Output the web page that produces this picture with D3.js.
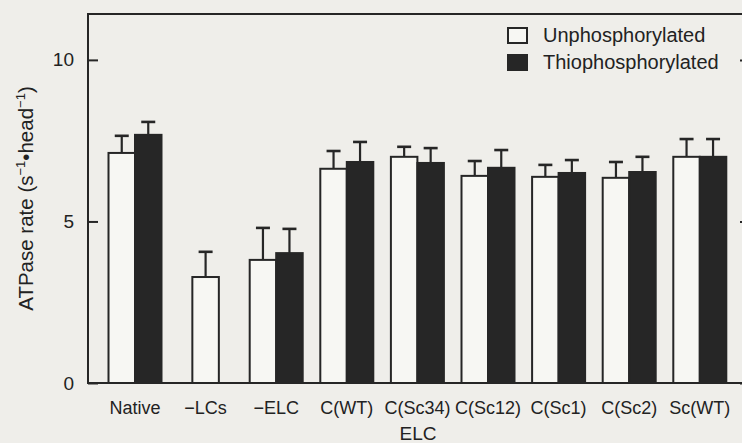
<!DOCTYPE html>
<html>
<head>
<meta charset="utf-8">
<script src="https://cdn.jsdelivr.net/npm/d3@7"></script>
<style>
  body { margin: 0; background: #efeeea; }
  svg { display: block; }
  text { font-family: "Liberation Sans", Arial, sans-serif; fill: #222; }
</style>
</head>
<body>
<div id="chart"></div>
<script>
// ATPase rates
var categories = ["Native", "\u2212LCs", "\u2212ELC", "C(WT)", "C(Sc34)", "C(Sc12)", "C(Sc1)", "C(Sc2)", "Sc(WT)"];
var unphos     = [7.12, 3.28, 3.81, 6.63, 7.00, 6.41, 6.38, 6.35, 7.00];
var unphosErr  = [0.53, 0.78, 0.99, 0.55, 0.31, 0.46, 0.37, 0.49, 0.55];
var thio       = [7.68, null, 4.02, 6.84, 6.81, 6.66, 6.50, 6.53, 7.00];
var thioErr    = [0.40, null, 0.75, 0.62, 0.46, 0.55, 0.40, 0.47, 0.55];
var yTicks     = [0, 5, 10];
var seriesNames = ["Unphosphorylated", "Thiophosphorylated"];

var width = 742, height = 443;
var ink = "#262626";
var lightFill = "#f7f7f3";

var svg = d3.select("#chart").append("svg")
    .attr("width", width)
    .attr("height", height);

var plot = { left: 88, right: 750, top: 14, bottom: 383 };

var x = d3.scaleBand()
    .domain(categories)
    .range([99.7, 735.1]);

var y = d3.scaleLinear()
    .domain([0, 11.42])
    .range([plot.bottom, plot.top]);

var barW = 26.5;

// build bar records
var bars = [];
categories.forEach(function(c, i) {
    var center = x(c) + x.bandwidth() / 2;
    if (thio[i] === null) {
        bars.push({ cx: center, v: unphos[i], e: unphosErr[i], s: 0 });
    } else {
        bars.push({ cx: center - barW / 2, v: unphos[i], e: unphosErr[i], s: 0 });
        bars.push({ cx: center + barW / 2, v: thio[i], e: thioErr[i], s: 1 });
    }
});

// error bars (drawn first, bar covers the lower part)
var err = svg.append("g").attr("class", "errors");
bars.forEach(function(d) {
    err.append("line")
        .attr("x1", d.cx).attr("x2", d.cx)
        .attr("y1", y(d.v)).attr("y2", y(d.v + d.e))
        .attr("stroke", ink).attr("stroke-width", 2.2);
    err.append("line")
        .attr("x1", d.cx - 7).attr("x2", d.cx + 7)
        .attr("y1", y(d.v + d.e)).attr("y2", y(d.v + d.e))
        .attr("stroke", ink).attr("stroke-width", 2.6);
});

// bars
svg.append("g").selectAll("rect")
    .data(bars)
    .enter()
    .append("rect")
    .attr("x", function(d) { return d.cx - barW / 2; })
    .attr("width", barW)
    .attr("y", function(d) { return y(d.v); })
    .attr("height", function(d) { return y(0) - y(d.v); })
    .attr("fill", function(d) { return d.s === 0 ? lightFill : ink; })
    .attr("stroke", ink)
    .attr("stroke-width", 2);

// frame
svg.append("rect")
    .attr("x", plot.left)
    .attr("y", plot.top)
    .attr("width", plot.right - plot.left)
    .attr("height", plot.bottom - plot.top)
    .attr("fill", "none")
    .attr("stroke", ink)
    .attr("stroke-width", 2);

// y axis, ticks pointing inward
var yAxis = d3.axisLeft(y)
    .tickValues(yTicks)
    .tickSize(-10)
    .tickPadding(14)
    .tickFormat(d3.format("d"));

var gy = svg.append("g")
    .attr("transform", "translate(" + plot.left + ",0)")
    .call(yAxis);
gy.select(".domain").remove();
gy.selectAll(".tick line").attr("stroke", ink).attr("stroke-width", 2);
gy.selectAll(".tick text")
    .style("font-size", "19px")
    .attr("fill", ink);

var gyr = svg.append("g")
    .attr("transform", "translate(" + plot.right + ",0)")
    .call(d3.axisRight(y).tickValues(yTicks).tickSize(-10).tickFormat(""));
gyr.select(".domain").remove();
gyr.selectAll(".tick line").attr("stroke", ink).attr("stroke-width", 2);

// x axis labels
var xAxis = d3.axisBottom(x).tickSize(0).tickPadding(18);
var gx = svg.append("g")
    .attr("transform", "translate(0," + plot.bottom + ")")
    .call(xAxis);
gx.select(".domain").remove();
gx.selectAll(".tick text")
    .style("font-size", "18px")
    .attr("fill", ink);

svg.append("text")
    .attr("x", 418)
    .attr("y", 440)
    .attr("text-anchor", "middle")
    .style("font-size", "19px")
    .text("ELC");

// y axis title
var yl = svg.append("text")
    .attr("transform", "translate(33," + ((plot.top + plot.bottom) / 2) + ") rotate(-90)")
    .attr("text-anchor", "middle")
    .style("font-size", "20.5px");
yl.append("tspan").text("ATPase rate  (s");
yl.append("tspan").attr("dy", -8).style("font-size", "13px").text("\u22121");
yl.append("tspan").attr("dy", 8).text("\u2022head");
yl.append("tspan").attr("dy", -8).style("font-size", "13px").text("\u22121");
yl.append("tspan").attr("dy", 8).text(")");

// legend
var legend = svg.append("g").attr("transform", "translate(507,27)");
seriesNames.forEach(function(name, i) {
    var row = legend.append("g").attr("transform", "translate(0," + (i * 27) + ")");
    row.append("rect")
        .attr("x", 1).attr("y", 1)
        .attr("width", 19).attr("height", 15)
        .attr("fill", i === 0 ? lightFill : ink)
        .attr("stroke", ink)
        .attr("stroke-width", 2);
    row.append("text")
        .attr("x", 36)
        .attr("y", 15)
        .style("font-size", "20px")
        .text(name);
});
</script>
</body>
</html>
